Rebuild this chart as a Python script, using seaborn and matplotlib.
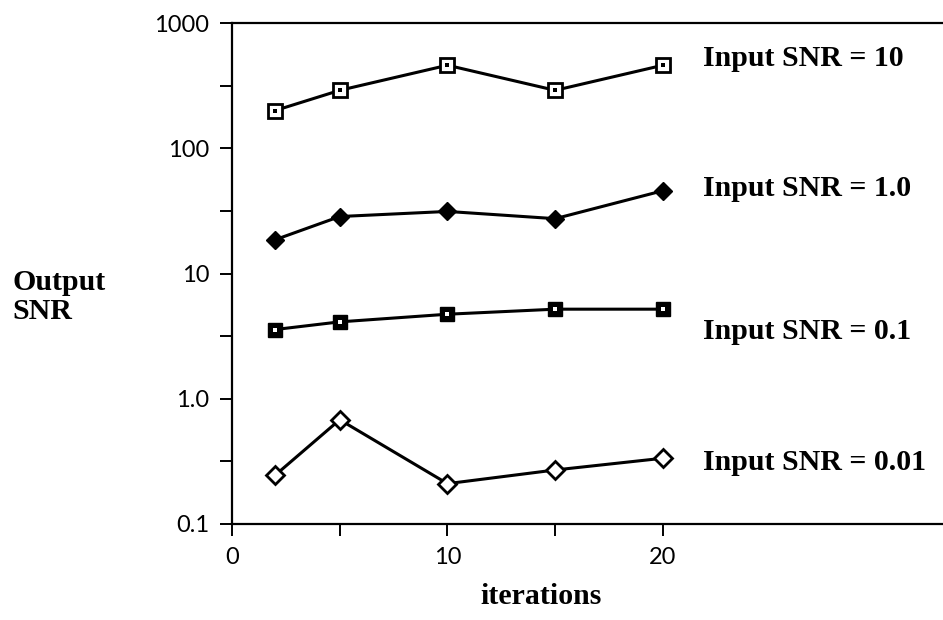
import numpy as np
import pandas as pd
import matplotlib
matplotlib.use('Agg')
import matplotlib.pyplot as plt
import seaborn as sns
from matplotlib.ticker import FixedLocator, NullFormatter

# Data
iterations = [2, 5, 10, 15, 20]
snr_10 = [200, 290, 460, 290, 460]
snr_1 = [18.6, 28.5, 31.3, 27.4, 45.8]
snr_01 = [3.57, 4.11, 4.73, 5.19, 5.19]
snr_001 = [0.245, 0.68, 0.21, 0.27, 0.335]

series_labels = ['Input SNR = 10', 'Input SNR = 1.0', 'Input SNR = 0.1', 'Input SNR = 0.01']
label_y = [521, 48, 3.44, 0.311]
label_x = 21.86

ytick_vals = [0.1, 1, 10, 100, 1000]
ytick_labels = ['0.1', '1.0', '10', '100', '1000']
yminor_vals = [0.316, 3.16, 31.6, 316]
xtick_vals = [0, 10, 20]
xminor_vals = [5, 15]

sns.set_style('ticks')
plt.rcParams['font.family'] = ['Lato', 'DejaVu Sans']
plt.rcParams['text.color'] = 'black'
plt.rcParams['xtick.color'] = 'black'
plt.rcParams['ytick.color'] = 'black'
plt.rcParams['axes.edgecolor'] = 'black'
serif = ['Liberation Serif', 'DejaVu Serif']

fig = plt.figure(figsize=(9.43, 6.2), dpi=100)
ax = fig.add_axes([232 / 943, 1 - 524 / 620, 711 / 943, 501 / 620])

# marker styling per series: (marker, size, facecolor, edgewidth, center dot colour)
styles = [
    ('s', 9.5, 'white', 2.0, 'black'),
    ('D', 9.0, 'black', 1.0, None),
    ('s', 10.0, 'black', 1.0, 'white'),
    ('D', 9.0, 'white', 2.0, None),
]
all_vals = [snr_10, snr_1, snr_01, snr_001]

for vals, (mk, ms, fc, mew, dot) in zip(all_vals, styles):
    sns.lineplot(x=iterations, y=vals, ax=ax, color='black', linewidth=2.2,
                 marker=mk, markersize=ms, markerfacecolor=fc,
                 markeredgecolor='black', markeredgewidth=mew, zorder=3)
    if dot is not None:
        sns.scatterplot(x=iterations, y=vals, ax=ax, marker='s', s=5,
                        color=dot, linewidth=0, zorder=4)

ax.set_yscale('log')
ax.set_ylim(0.1, 1000)
ax.set_xlim(0, 33)
ax.yaxis.set_major_locator(FixedLocator(ytick_vals))
ax.set_yticklabels(ytick_labels)
ax.yaxis.set_minor_locator(FixedLocator(yminor_vals))
ax.yaxis.set_minor_formatter(NullFormatter())
ax.set_xticks(xtick_vals)
ax.xaxis.set_minor_locator(FixedLocator(xminor_vals))

ax.tick_params(which='both', direction='out', length=8.5, width=1.4,
               color='black', labelcolor='black', labelsize=17, pad=8)
for side in ['left', 'bottom', 'top']:
    ax.spines[side].set_linewidth(1.6)
ax.spines['right'].set_visible(False)
ax.set_xlabel('')
ax.set_ylabel('')

for text, y in zip(series_labels, label_y):
    ax.text(label_x, y, text, ha='left', va='center', fontsize=21.5,
            fontweight='bold', family=serif, color='black')

fig.text(12 / 943, 1 - 297 / 620, 'Output\nSNR', ha='left', va='center',
         fontsize=21.5, fontweight='bold', family=serif, linespacing=1.05,
         color='black')
fig.text(541 / 943, 1 - 597 / 620, 'iterations', ha='center', va='center',
         fontsize=21.5, fontweight='bold', family=serif, color='black')

fig.savefig('out.png', dpi=100)
